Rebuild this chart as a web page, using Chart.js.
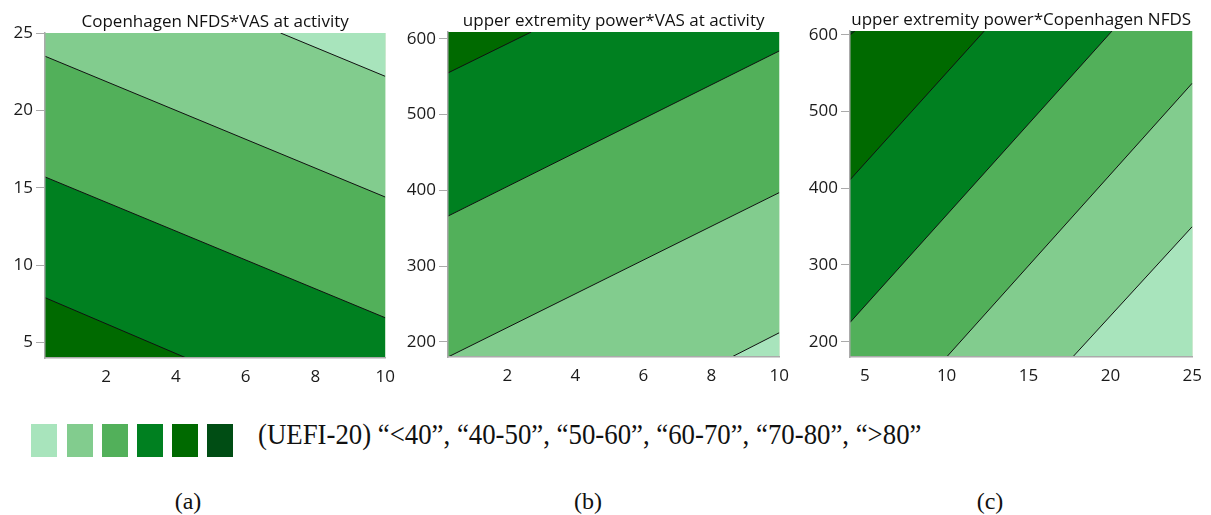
<!DOCTYPE html>
<html>
<head>
<meta charset="utf-8">
<script src="https://cdn.jsdelivr.net/npm/chart.js@4.4.1/dist/chart.umd.min.js"></script>
<style>
body { margin: 0; background: #fff; }
#wrap { position: relative; width: 1211px; height: 515px; overflow: hidden; }
canvas { position: absolute; top: 0; }
.sw { position: absolute; top: 424px; width: 26px; height: 33px; }
.txt { position: absolute; font-family: "Liberation Serif", "Times New Roman", serif; color: #111; white-space: nowrap; }
</style>
</head>
<body>
<div id="wrap">
  <canvas id="ca" width="404" height="395" style="left:0px"></canvas>
  <canvas id="cb" width="395" height="394" style="left:403px"></canvas>
  <canvas id="cc" width="406" height="394" style="left:805px"></canvas>
  <div id="legend"></div>
  <div class="txt" id="legendText" style="left:258px;top:421px;font-size:26.8px;line-height:27px;transform:scaleY(1.1);transform-origin:0 50%;"></div>
  <div class="txt" style="left:138px;width:100px;text-align:center;top:489px;font-size:24px;line-height:24px;">(a)</div>
  <div class="txt" style="left:538px;width:100px;text-align:center;top:489px;font-size:24px;line-height:24px;">(b)</div>
  <div class="txt" style="left:940px;width:100px;text-align:center;top:489px;font-size:24px;line-height:24px;">(c)</div>
</div>
<script>
// UEFI-20 bands
const bandLabels = ['<40', '40-50', '50-60', '60-70', '70-80', '>80'];
const bandColors = ['#a8e4bc', '#82cc8e', '#52b05a', '#008020', '#006a00', '#004d14'];

// panel (a) Copenhagen NFDS (y) vs VAS at activity (x)
const aTitle = 'Copenhagen NFDS*VAS at activity';
const aXRange = [0.25, 10];
const aYRange = [4, 25];
const aXTicks = [2, 4, 6, 8, 10];
const aYTicks = [5, 10, 15, 20, 25];
// contour lines (end points where they meet the frame)
const aLineX = [[7.0, 10], [0.25, 4.3], [0.25, 10], [0.25, 10]];
const aLineY = [[25, 22.2], [7.9, 4], [23.5, 14.4], [15.7, 6.6]];
const aBand = [0, 4, 1, 3];             // band on the far side of each line
const aSide = ['end', 'start', 'end', 'start'];

// panel (b) upper extremity power (y) vs VAS at activity (x)
const bTitle = 'upper extremity power*VAS at activity';
const bXRange = [0.25, 10];
const bYRange = [180, 609];
const bXTicks = [2, 4, 6, 8, 10];
const bYTicks = [200, 300, 400, 500, 600];
const bLineX = [[0.25, 2.7], [8.6, 10], [0.25, 10], [0.25, 10]];
const bLineY = [[555, 609], [180, 212], [366, 584], [180, 397]];
const bBand = [4, 0, 3, 1];
const bSide = ['end', 'start', 'end', 'start'];

// panel (c) upper extremity power (y) vs Copenhagen NFDS (x)
const cTitle = 'upper extremity power*Copenhagen NFDS';
const cXRange = [4.1, 25];
const cYRange = [180, 605];
const cXTicks = [5, 10, 15, 20, 25];
const cYTicks = [200, 300, 400, 500, 600];
const cLineX = [[4.1, 4.4], [4.1, 12.3], [17.7, 25], [4.1, 20.1], [10, 25]];
const cLineY = [[600, 605], [411, 605], [180, 350], [225, 605], [180, 537]];
const cBand = [5, 4, 0, 3, 1];
const cSide = ['end', 'end', 'start', 'end', 'start'];

const fontSans = "'Open Sans', 'Noto Sans', sans-serif";

// middle band (50-60) shows as the plot background
const bgPlugin = {
    id: 'bandBg',
    beforeDraw(chart) {
        const a = chart.chartArea;
        const c = chart.ctx;
        c.save();
        c.fillStyle = bandColors[2];
        c.fillRect(a.left, a.top, a.right - a.left, a.bottom - a.top);
        c.restore();
    }
};

function makePanel(id, title, xRange, yRange, xTicks, yTicks, lineX, lineY, band, side, padTop, padRight) {
    const datasets = lineX.map((xs, i) => ({
        data: xs.map((x, k) => ({ x: x, y: lineY[i][k] })),
        borderColor: '#111',
        borderWidth: 1,
        pointRadius: 0,
        backgroundColor: bandColors[band[i]],
        fill: side[i],
        tension: 0
    }));
    return new Chart(document.getElementById(id), {
        type: 'line',
        data: { datasets: datasets },
        options: {
            responsive: false,
            animation: false,
            events: [],
            layout: { padding: { left: 0, right: padRight, top: 0, bottom: 0 } },
            plugins: {
                legend: { display: false },
                tooltip: { enabled: false },
                filler: { drawTime: 'beforeDatasetsDraw' },
                title: {
                    display: true,
                    text: title,
                    fullSize: false,
                    color: '#111',
                    font: { family: fontSans, size: 17, weight: 'normal' },
                    padding: { top: padTop, bottom: 1 }
                }
            },
            scales: {
                x: {
                    type: 'linear',
                    min: xRange[0],
                    max: xRange[1],
                    afterBuildTicks: s => { s.ticks = xTicks.map(v => ({ value: v })); },
                    afterFit: s => { s.height = 37; },
                    grid: { display: false, drawTicks: false },
                    border: { color: '#aaa', width: 1.5, z: 1 },
                    ticks: { color: '#1a1a1a', font: { family: fontSans, size: 17 }, padding: 9, maxRotation: 0, autoSkip: false }
                },
                y: {
                    type: 'linear',
                    min: yRange[0],
                    max: yRange[1],
                    afterBuildTicks: s => { s.ticks = yTicks.map(v => ({ value: v })); },
                    afterFit: s => { s.width = 45; },
                    grid: { drawOnChartArea: false, tickLength: 9, color: '#aaa' },
                    border: { color: '#aaa', width: 1.5, z: 1 },
                    ticks: { color: '#1a1a1a', font: { family: fontSans, size: 17 }, padding: 3, autoSkip: false }
                }
            }
        },
        plugins: [bgPlugin]
    });
}

makePanel('ca', aTitle, aXRange, aYRange, aXTicks, aYTicks, aLineX, aLineY, aBand, aSide, 11.6, 15);
makePanel('cb', bTitle, bXRange, bYRange, bXTicks, bYTicks, bLineX, bLineY, bBand, bSide, 10.6, 15);
makePanel('cc', cTitle, cXRange, cYRange, cXTicks, cYTicks, cLineX, cLineY, cBand, cSide, 9.6, 12);

// colour key
const swLeft = [31, 67, 102, 137, 172, 207];
const legend = document.getElementById('legend');
bandColors.forEach((col, i) => {
    const d = document.createElement('div');
    d.className = 'sw';
    d.style.left = swLeft[i] + 'px';
    d.style.background = col;
    legend.appendChild(d);
});
document.getElementById('legendText').textContent =
    '(UEFI-20) ' + bandLabels.map(l => '\u201C' + l + '\u201D').join(', ');
</script>
</body>
</html>
